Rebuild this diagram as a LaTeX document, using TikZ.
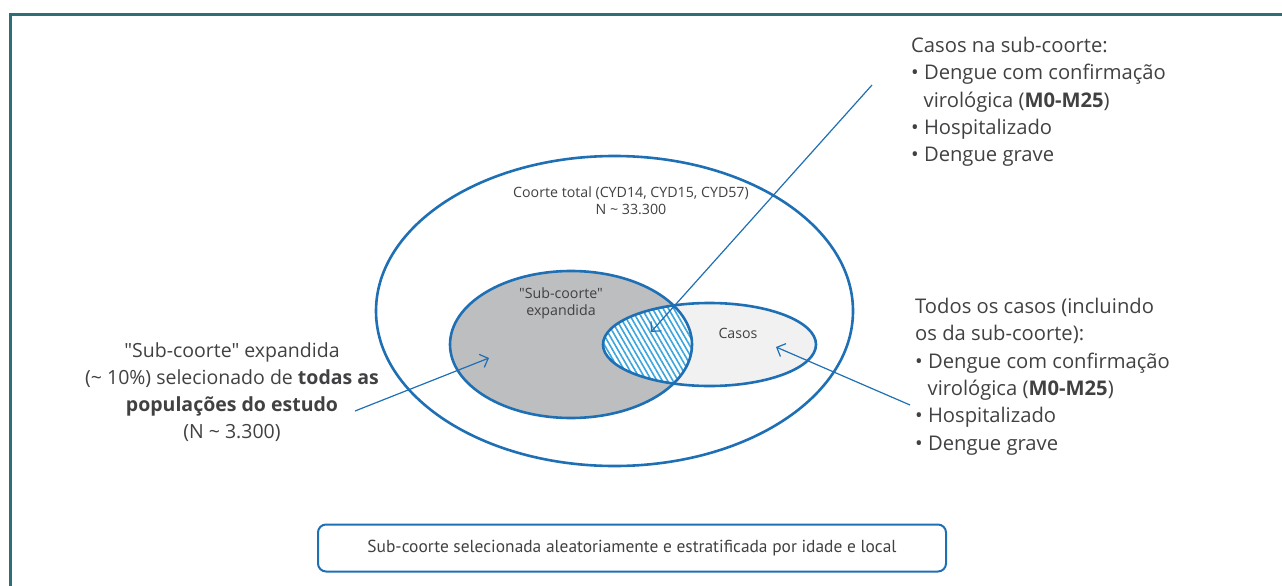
\documentclass[tikz,border=0pt]{standalone}
\usepackage{fontspec}
\setmainfont{Open Sans}[Ligatures=TeXOff]
\newfontfamily\narrowfont{PT Sans}[Ligatures=TeXOff]
\usetikzlibrary{arrows.meta,shapes.geometric,patterns.meta}
\definecolor{venblue}{HTML}{1F6FB5}
\definecolor{hatchblue}{HTML}{3AA5DD}
\definecolor{framegreen}{HTML}{2F6E77}
\definecolor{subgray}{HTML}{BDBEC0}
\definecolor{casegray}{HTML}{F1F1F2}
\definecolor{textgray}{HTML}{414042}
\newcommand{\bul}{\textbullet{} }
\newcommand{\indentbul}{\hspace*{0.62em}}

\begin{document}
\begin{tikzpicture}[x=1pt, y=-1pt, every node/.style={text=textgray, font=\fontsize{20.2}{27.3}\selectfont, inner sep=0pt}, >={Straight Barb[length=7pt, width=14pt]}, ring/.style={draw=venblue, line width=2.6pt, ellipse, inner sep=0pt}, pointer/.style={->, venblue, line width=1.2pt}, small/.style={font=\fontsize{14.2}{17}\selectfont}]
	\useasboundingbox (0,0) rectangle (1282,586);
	\draw[framegreen, line width=3pt] (10,586) -- (10,15) -- (1282,15);
	\fill[subgray] (571,344.5) ellipse [x radius=121, y radius=73.5];
	\fill[casegray] (709.5,344.5) ellipse [x radius=106.5, y radius=41.5];
	\begin{scope}
		\clip (709.5,344.5) ellipse [x radius=106.5, y radius=41.5];
		\fill[white] (571,344.5) ellipse [x radius=121, y radius=73.5];
		\fill[pattern={Lines[angle=-60, distance=4.6pt, line width=1.6pt]}, pattern color=hatchblue] (571,344.5) ellipse [x radius=121, y radius=73.5];
	\end{scope}
	\node[ring, minimum width=477pt, minimum height=310pt] (total) at (614.5,311) {};
	\node[ring, minimum width=242pt, minimum height=147pt] (subcohort) at (571,344.5) {};
	\node[ring, minimum width=213pt, minimum height=83pt] (cases) at (709.5,344.5) {};
	\node[small, align=center] (totallabel) at (631,201) {Coorte total (CYD14, CYD15, CYD57)\\N \textasciitilde{} 33.300};
	\node[small, align=center] (sublabel) at (561,303) {"Sub-coorte"\\expandida};
	\node[small] (caseslabel) at (738,333) {Casos};
	\node[align=center, anchor=north, font=\fontsize{19.5}{27}\selectfont] (subtext) at (232,342) {"Sub-coorte" expandida\\(\textasciitilde{} 10\%) selecionado de \textbf{todas as}\\\textbf{populações do estudo}\\(N \textasciitilde{} 3.300)};
	\node[align=left, anchor=north west] (insubtext) at (911,37) {Casos na sub-coorte:\\\bul Dengue com confirmação\\\indentbul virológica (\textbf{M0-M25})\\\bul Hospitalizado\\\bul Dengue grave};
	\node[align=left, anchor=north west] (alltext) at (915,298) {Todos os casos (incluindo\\os da sub-coorte):\\\bul Dengue com confirmação\\\indentbul virológica (\textbf{M0-M25})\\\bul Hospitalizado\\\bul Dengue grave};
	\node[font=\narrowfont\fontsize{17.4}{20}\selectfont, draw=venblue, line width=2pt, rounded corners=8pt, minimum width=628pt, minimum height=47pt] (method) at (632,548) {Sub-coorte selecionada aleatoriamente e estratificada por idade e local};
	\coordinate (topfoot) at (872,85);
	\coordinate (toptip) at (651,332);
	\coordinate (leftfoot) at (355,411);
	\coordinate (lefttip) at (489,358);
	\coordinate (rightfoot) at (910,405);
	\coordinate (righttip) at (776,347);
	\draw[pointer] (topfoot) -- (toptip);
	\draw[pointer] (leftfoot) -- (lefttip);
	\draw[pointer] (rightfoot) -- (righttip);
\end{tikzpicture}
\end{document}
